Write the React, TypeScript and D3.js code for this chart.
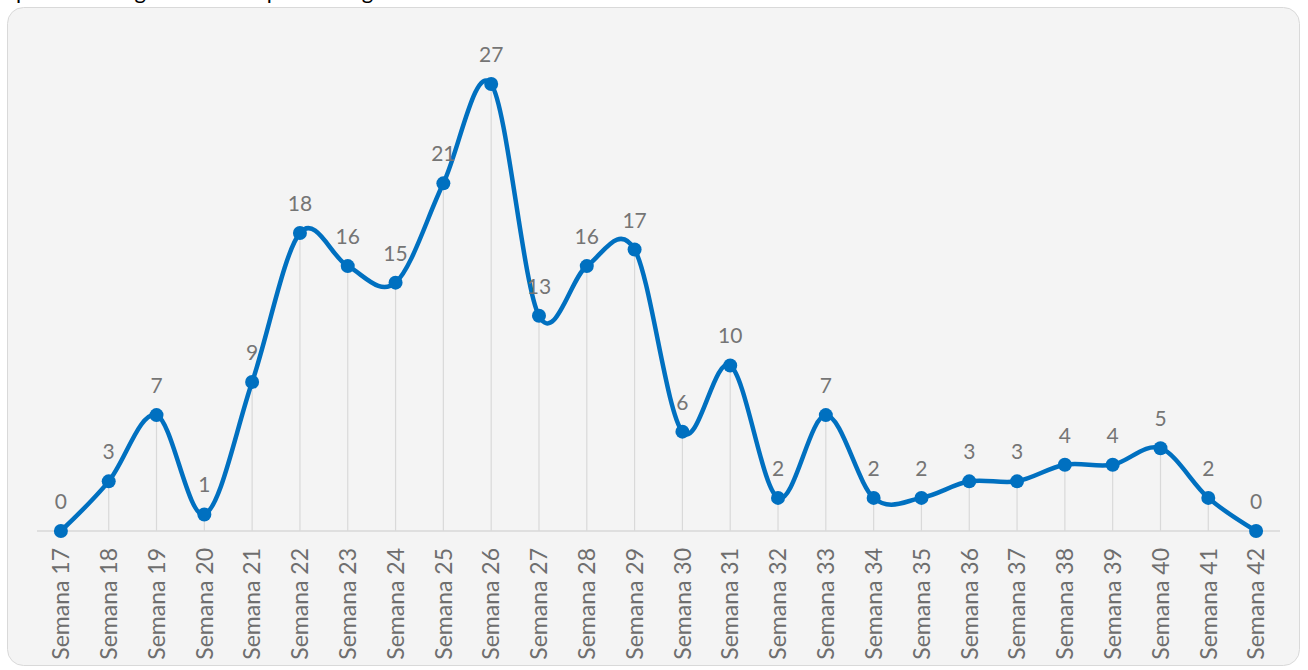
import { useEffect, useRef } from "react";
import * as d3 from "d3";

// weekly counts
const weeks = [
    "Semana 17", "Semana 18", "Semana 19", "Semana 20", "Semana 21", "Semana 22",
    "Semana 23", "Semana 24", "Semana 25", "Semana 26", "Semana 27", "Semana 28",
    "Semana 29", "Semana 30", "Semana 31", "Semana 32", "Semana 33", "Semana 34",
    "Semana 35", "Semana 36", "Semana 37", "Semana 38", "Semana 39", "Semana 40",
    "Semana 41", "Semana 42",
];
const cases = [0, 3, 7, 1, 9, 18, 16, 15, 21, 27, 13, 16, 17, 6, 10, 2, 7, 2, 2, 3, 3, 4, 4, 5, 2, 0];

const W = 1308;
const H = 670;
const BLUE = "#0070c0";
const FONT = "Lato, 'Open Sans', sans-serif";

export default function App() {
    const svgRef = useRef<SVGSVGElement | null>(null);

    useEffect(() => {
        document.body.style.margin = "0";
        const svg = d3.select(svgRef.current);
        svg.selectAll("*").remove();

        // heading of the page, cut off at the top edge (as in the picture)
        svg.append("text")
            .attr("x", 16)
            .attr("y", -1)
            .attr("fill", "#000")
            .style("font-family", FONT)
            .style("font-size", "22px")
            .text("pacientes según semana epidemiológica");

        // card
        svg.append("rect")
            .attr("x", 7.5)
            .attr("y", 7.5)
            .attr("width", 1292)
            .attr("height", 658)
            .attr("rx", 16)
            .attr("fill", "#f4f4f4")
            .attr("stroke", "#d9d9d9");

        const x = d3.scaleBand<string>()
            .domain(weeks)
            .range([37, 1280]);
        const y = d3.scaleLinear()
            .domain([0, 27])
            .range([531, 84]);

        const cx = (i: number) => (x(weeks[i]) ?? 0) + x.bandwidth() / 2;
        const g = svg.append("g");

        // drop lines
        g.selectAll("line.drop")
            .data(cases)
            .join("line")
            .attr("class", "drop")
            .attr("x1", (_, i) => cx(i))
            .attr("x2", (_, i) => cx(i))
            .attr("y1", y(0))
            .attr("y2", (d) => y(d))
            .attr("stroke", "#d9d9d9")
            .attr("stroke-width", 1.2);

        // baseline
        g.append("line")
            .attr("x1", x.range()[0])
            .attr("x2", x.range()[1])
            .attr("y1", y(0))
            .attr("y2", y(0))
            .attr("stroke", "#d9d9d9")
            .attr("stroke-width", 1.5);

        const line = d3.line<number>()
            .x((_, i) => cx(i))
            .y((d) => y(d))
            .curve(d3.curveCardinal.tension(0));

        g.append("path")
            .datum(cases)
            .attr("fill", "none")
            .attr("stroke", BLUE)
            .attr("stroke-width", 4.5)
            .attr("stroke-linejoin", "round")
            .attr("d", line);

        g.selectAll("circle")
            .data(cases)
            .join("circle")
            .attr("cx", (_, i) => cx(i))
            .attr("cy", (d) => y(d))
            .attr("r", 7)
            .attr("fill", BLUE);

        // data labels
        g.selectAll("text.lbl")
            .data(cases)
            .join("text")
            .attr("class", "lbl")
            .attr("x", (_, i) => cx(i))
            .attr("y", (d) => y(d) - 22)
            .attr("text-anchor", "middle")
            .attr("fill", "#757575")
            .style("font-family", FONT)
            .style("font-size", "21px")
            .text((d) => d);

        // category labels, rotated
        g.selectAll("text.cat")
            .data(weeks)
            .join("text")
            .attr("class", "cat")
            .attr("transform", (d) => `translate(${(x(d) ?? 0) + x.bandwidth() / 2}, 548) rotate(-90)`)
            .attr("text-anchor", "end")
            .attr("dy", "0.36em")
            .attr("fill", "#6e6e6e")
            .style("font-family", FONT)
            .style("font-size", "23px")
            .text((d) => d);
    }, []);

    return (
        <svg ref={svgRef} width={W} height={H} style={{ display: "block" }}></svg>
    );
}
